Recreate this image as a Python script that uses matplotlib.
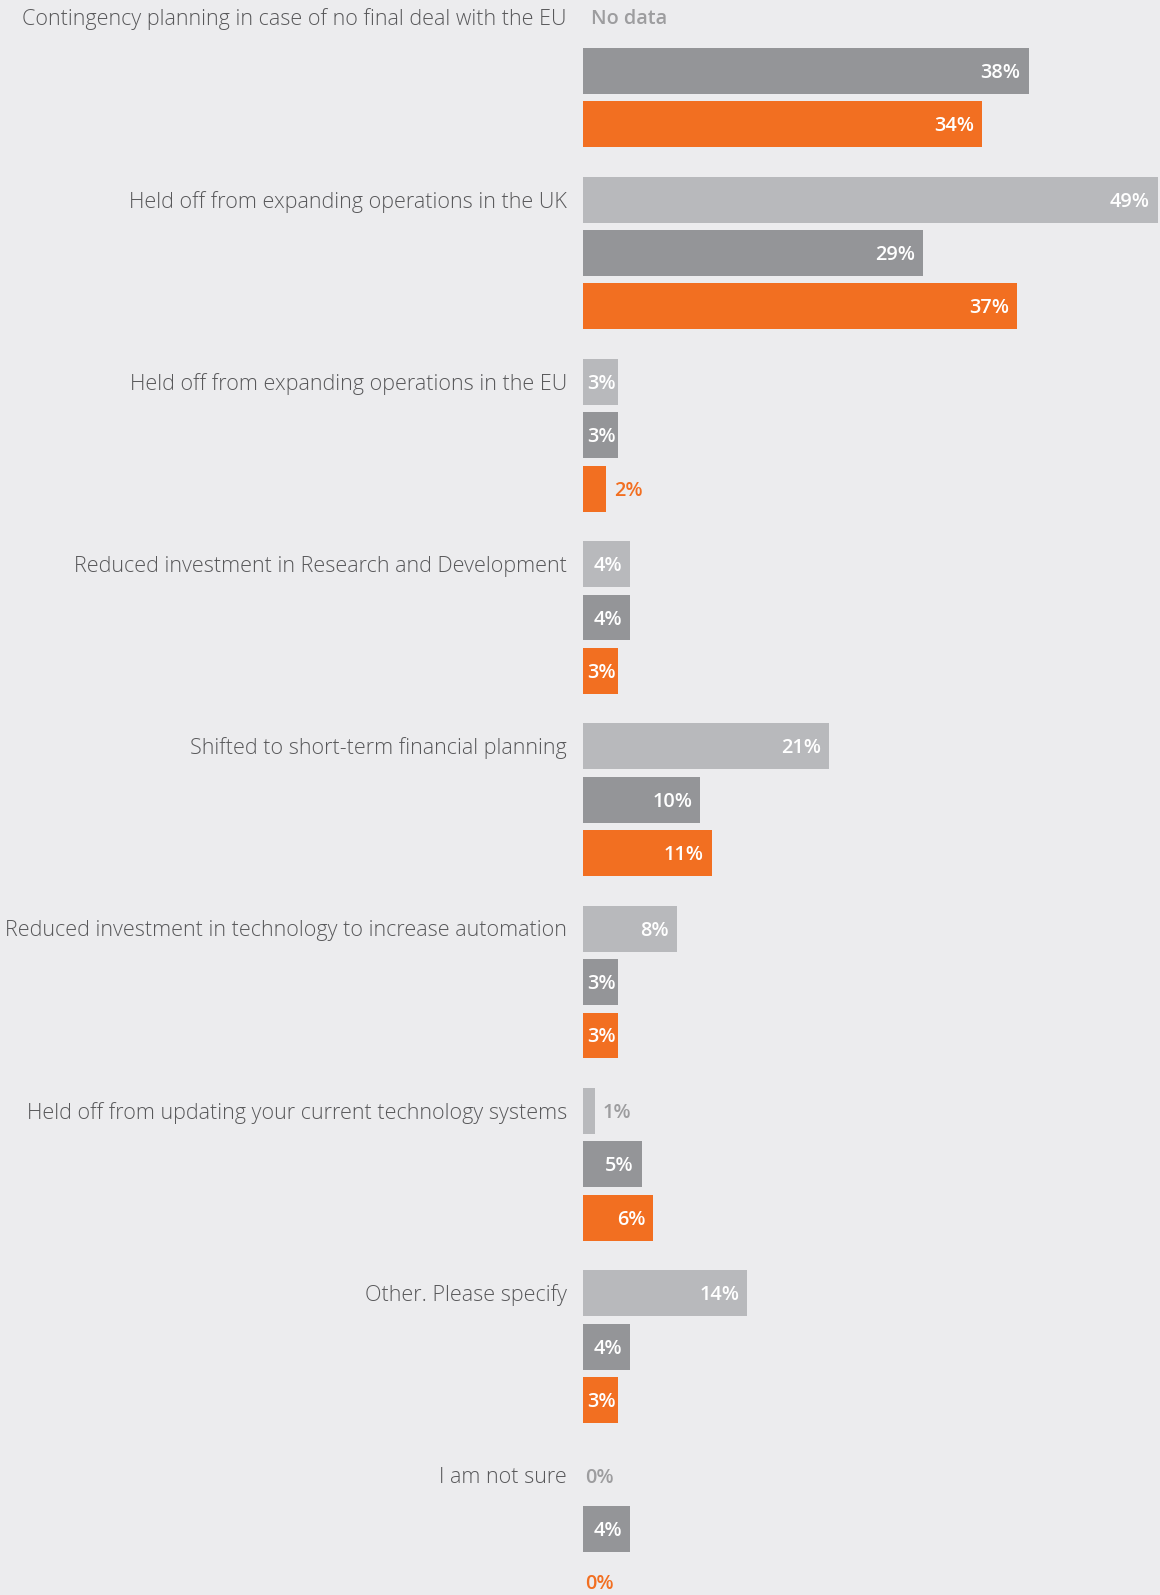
import matplotlib

matplotlib.use("Agg")
import matplotlib.pyplot as plt

BG = "#ececee"
LIGHT, DARK, ORANGE = "#b8b9bc", "#949598", "#f26f21"
LABEL_GRAY = "#58585a"
MUTED = "#9d9d9f"

categories = [
    "Contingency planning in case of no final deal with the EU",
    "Held off from expanding operations in the UK",
    "Held off from expanding operations in the EU",
    "Reduced investment in Research and Development",
    "Shifted to short-term financial planning",
    "Reduced investment in technology to increase automation",
    "Held off from updating your current technology systems",
    "Other. Please specify",
    "I am not sure",
]
light_vals = [None, 49, 3, 4, 21, 8, 1, 14, 0]
dark_vals = [38, 29, 3, 4, 10, 3, 5, 4, 4]
orange_vals = [34, 37, 2, 3, 11, 3, 6, 3, 0]

series = [(light_vals, LIGHT, MUTED), (dark_vals, DARK, DARK), (orange_vals, ORANGE, ORANGE)]

GROUP = 3.414   # distance between category groups, in bar slots
HEIGHT = 0.86
DY = -2         # nudge text down a little so it sits optically centred

plt.rcParams["font.family"] = ["Open Sans", "DejaVu Sans"]

fig = plt.figure(figsize=(11.6, 15.95), dpi=100, facecolor=BG)
ax = fig.add_axes([583 / 1160, 0, 1 - 583 / 1160, 1])
ax.set_facecolor(BG)
ax.set_xlim(0, 49.2)
ax.set_ylim(29.55, -0.324)
ax.axis("off")

for i, cat in enumerate(categories):
    y0 = i * GROUP
    ax.annotate(cat, (0, y0), xytext=(-16, DY), textcoords="offset pixels",
                ha="right", va="center", fontsize=15.5, color=LABEL_GRAY,
                fontweight="light", annotation_clip=False)
    for j, (vals, col, txtcol) in enumerate(series):
        v = vals[i]
        y = y0 + j
        kw = dict(va="center", fontsize=14.3, fontweight="semibold",
                  textcoords="offset pixels")
        if v is None:
            ax.annotate("No data", (0, y), xytext=(8, DY), ha="left", color=MUTED, **kw)
            continue
        ax.barh(y, v, height=HEIGHT, color=col, linewidth=0)
        lbl = f"{v}%"
        if v == 0:
            ax.annotate(lbl, (0, y), xytext=(2, DY), ha="left", color=txtcol, **kw)
        elif v <= 2:
            ax.annotate(lbl, (v, y), xytext=(8, DY), ha="left", color=txtcol, **kw)
        elif v <= 4:
            ax.annotate(lbl, (v / 2, y), xytext=(1, DY), ha="center", color="white", **kw)
        else:
            ax.annotate(lbl, (v, y), xytext=(-8, DY), ha="right", color="white", **kw)

fig.savefig("out.png", dpi=100, facecolor=BG)
